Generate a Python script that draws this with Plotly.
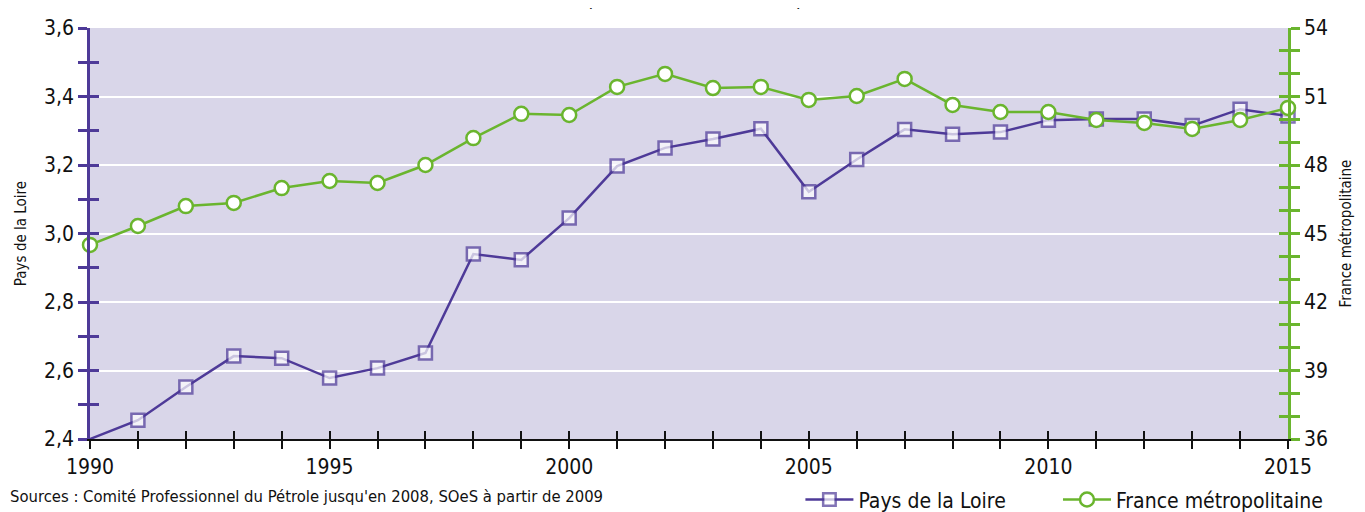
import plotly.graph_objects as go

years = list(range(1990, 2016))
pays_de_la_loire = [2.40, 2.455, 2.552, 2.642, 2.636, 2.578, 2.607, 2.651, 2.94, 2.923,
                    3.045, 3.197, 3.25, 3.276, 3.306, 3.122, 3.216, 3.304, 3.29, 3.296,
                    3.331, 3.334, 3.334, 3.315, 3.363, 3.343]
france_metro = [44.5, 45.33, 46.2, 46.34, 46.99, 47.3, 47.21, 48.0, 49.18, 50.24,
                50.19, 51.42, 51.99, 51.37, 51.42, 50.85, 51.02, 51.77, 50.63, 50.32,
                50.32, 49.97, 49.84, 49.58, 49.97, 50.5]
left_ticks = [2.4, 2.6, 2.8, 3.0, 3.2, 3.4, 3.6]
right_ticks = [36, 39, 42, 45, 48, 51, 54]
x_ticks = [1990, 1995, 2000, 2005, 2010, 2015]

title_text = "(en millions de tonnes)"
source_text = "Sources : Comité Professionnel du Pétrole jusqu'en 2008, SOeS à partir de 2009"

PURPLE = "#4E3A98"
GREEN = "#6AB52E"
BG = "#D9D6E9"
FONT = "Liberation Sans Narrow, DejaVu Sans Condensed, Arial Narrow, sans-serif"

fig = go.Figure()

purple_sizes = [0] + [13] * (len(years) - 1)

fig.add_trace(go.Scatter(
    x=years, y=pays_de_la_loire, name="Pays de la Loire", mode="lines+markers",
    line=dict(color=PURPLE, width=2.5),
    marker=dict(symbol="square", size=purple_sizes, color="white",
                line=dict(color=PURPLE, width=2.5)),
    cliponaxis=False, xaxis="x", yaxis="y", legend="legend"))

fig.add_trace(go.Scatter(
    x=years, y=france_metro, name="France métropolitaine", mode="lines+markers",
    line=dict(color=GREEN, width=2.5),
    marker=dict(symbol="circle", size=14, color="white",
                line=dict(color=GREEN, width=2.5)),
    cliponaxis=False, xaxis="x", yaxis="y2", legend="legend2"))

# invisible helper traces so that the overlay axes (inner tick halves) are drawn
fig.add_trace(go.Scatter(x=[years[0]], y=[pays_de_la_loire[0]], xaxis="x2", yaxis="y3",
                         mode="markers", marker=dict(opacity=0), showlegend=False,
                         hoverinfo="skip"))
fig.add_trace(go.Scatter(x=[years[0]], y=[france_metro[0]], xaxis="x2", yaxis="y4",
                         mode="markers", marker=dict(opacity=0), showlegend=False,
                         hoverinfo="skip"))

tickfont = dict(family=FONT, size=21, color="#111111")
legend_font = dict(family=FONT, size=21, color="#111111")

fig.update_layout(
    width=1357, height=504,
    margin=dict(l=82, r=77, t=20, b=73, autoexpand=False),
    paper_bgcolor="white", plot_bgcolor=BG,
    separators=", ",
    font=dict(family=FONT, color="#111111"),
    showlegend=True,
    legend=dict(orientation="h", x=0.593, y=-0.148, xanchor="left", yanchor="middle",
                font=legend_font, itemwidth=48, bgcolor="rgba(0,0,0,0)"),
    legend2=dict(orientation="h", x=0.808, y=-0.148, xanchor="left", yanchor="middle",
                 font=legend_font, itemwidth=48, bgcolor="rgba(0,0,0,0)"),
    xaxis=dict(range=[1990, 2015], tickvals=x_ticks, ticktext=[str(v) for v in x_ticks],
               automargin=False,
               showgrid=False, zeroline=False, showline=True, linecolor="#111111",
               linewidth=2, ticks="outside", ticklen=8, tickwidth=2, tickcolor="#111111",
               minor=dict(dtick=1, ticks="outside", ticklen=8, tickwidth=2,
                          tickcolor="#111111"),
               tickfont=dict(family=FONT, size=21, color="#111111")),
    xaxis2=dict(range=[1990, 2015], overlaying="x", matches="x", side="bottom",
                automargin=False,
                showgrid=False, zeroline=False, showline=False, showticklabels=False,
                tickvals=x_ticks, ticks="inside", ticklen=8, tickwidth=2,
                tickcolor="#111111",
                minor=dict(dtick=1, ticks="inside", ticklen=8, tickwidth=2,
                           tickcolor="#111111")),
    yaxis=dict(range=[2.4, 3.6], tickvals=left_ticks, tickformat=".1f",
               automargin=False,
               showgrid=True, gridcolor="white", gridwidth=2, zeroline=False,
               showline=True, linecolor=PURPLE, linewidth=2.5,
               ticks="outside", ticklen=9, tickwidth=2.5, tickcolor=PURPLE,
               minor=dict(dtick=0.1, ticks="outside", ticklen=9, tickwidth=2.5,
                          tickcolor=PURPLE, showgrid=False),
               tickfont=tickfont,
               title=dict(text="Pays de la Loire", standoff=14,
                          font=dict(family=FONT, size=15, color="#111111"))),
    yaxis3=dict(range=[2.4, 3.6], overlaying="y", matches="y", side="left",
                automargin=False,
                showgrid=False, zeroline=False, showline=False, showticklabels=False,
                tickvals=left_ticks, ticks="inside", ticklen=9, tickwidth=2.5,
                tickcolor=PURPLE,
                minor=dict(dtick=0.1, ticks="inside", ticklen=9, tickwidth=2.5,
                           tickcolor=PURPLE)),
    yaxis2=dict(range=[36, 54], overlaying="y", side="right", tickvals=right_ticks,
                automargin=False,
                showgrid=False, zeroline=False, showline=True, linecolor=GREEN,
                linewidth=2.5, ticks="outside", ticklen=9, tickwidth=2.5,
                tickcolor=GREEN,
                minor=dict(dtick=1, ticks="outside", ticklen=9, tickwidth=2.5,
                           tickcolor=GREEN),
                tickfont=tickfont,
                title=dict(text="France métropolitaine", standoff=14,
                           font=dict(family=FONT, size=15, color="#111111"))),
    yaxis4=dict(range=[36, 54], overlaying="y", matches="y2", side="right",
                automargin=False,
                showgrid=False, zeroline=False, showline=False, showticklabels=False,
                tickvals=right_ticks, ticks="inside", ticklen=9, tickwidth=2.5,
                tickcolor=GREEN,
                minor=dict(dtick=1, ticks="inside", ticklen=9, tickwidth=2.5,
                           tickcolor=GREEN)),
    annotations=[
        dict(text=source_text, xref="paper", yref="paper", x=-0.0684, y=-0.141,
             xanchor="left", yanchor="middle", showarrow=False,
             font=dict(family=FONT, size=16.5, color="#111111")),
        dict(text=title_text, xref="paper", yref="paper", x=0.505, y=1.037,
             xanchor="center", yanchor="bottom", showarrow=False,
             font=dict(family=FONT, size=21, color="#111111")),
    ],
)

fig.write_html("out.html")
